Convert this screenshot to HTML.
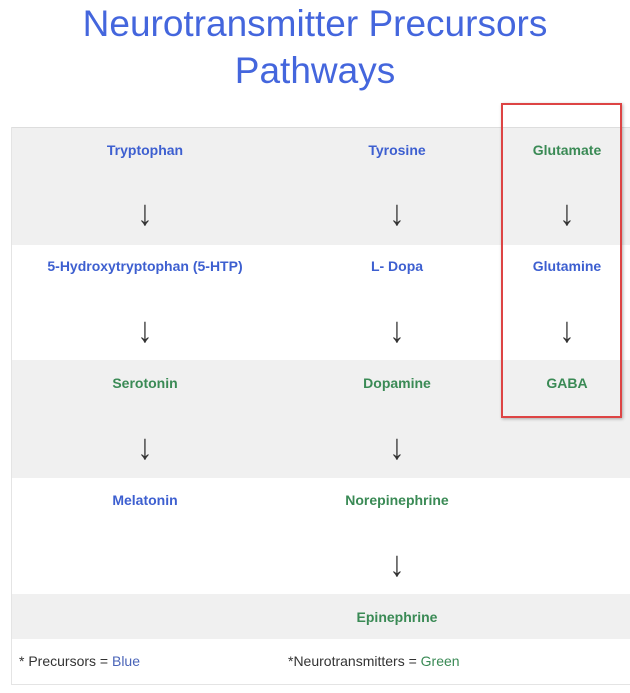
<!DOCTYPE html>
<html><head><style>
body{margin:0;width:630px;height:693px;background:#fff;position:relative;font-family:"Liberation Sans",sans-serif;overflow:hidden}
.t{position:absolute;left:0;width:630px;text-align:center;color:#4466dd;font-size:37px;line-height:48px}
.bg{position:absolute;left:11px;width:619px}
.l{position:absolute;width:240px;margin-left:-120px;text-align:center;font-weight:bold;font-size:14px;line-height:18px}
.b{color:#3d5fd0}.g{color:#3a8a55}
.a{position:absolute;width:40px;margin-left:-20px;text-align:center;font-size:36px;line-height:36px;color:#333;transform:scaleX(0.85)}
</style></head><body>
<div class="t" style="top:0px">Neurotransmitter Precursors</div>
<div class="t" style="top:47px">Pathways</div>
<div class="bg" style="top:127px;height:117px;background:#f0f0f0;border-top:1px solid #ddd"></div>
<div class="bg" style="top:360px;height:118px;background:#f0f0f0"></div>
<div class="bg" style="top:594px;height:45px;background:#f0f0f0"></div>
<div class="bg" style="top:684px;height:1px;background:#e4e4e4"></div>
<div style="position:absolute;left:11px;top:127px;width:1px;height:558px;background:#e4e4e4"></div>

<div class="l b" style="left:145px;top:141px">Tryptophan</div>
<div class="l b" style="left:397px;top:141px">Tyrosine</div>
<div class="l g" style="left:567px;top:141px">Glutamate</div>
<div class="a" style="left:145px;top:195px">↓</div>
<div class="a" style="left:397px;top:195px">↓</div>
<div class="a" style="left:567px;top:195px">↓</div>

<div class="l b" style="left:145px;top:257px">5-Hydroxytryptophan (5-HTP)</div>
<div class="l b" style="left:397px;top:257px">L- Dopa</div>
<div class="l b" style="left:567px;top:257px">Glutamine</div>
<div class="a" style="left:145px;top:312px">↓</div>
<div class="a" style="left:397px;top:312px">↓</div>
<div class="a" style="left:567px;top:312px">↓</div>

<div class="l g" style="left:145px;top:374px">Serotonin</div>
<div class="l g" style="left:397px;top:374px">Dopamine</div>
<div class="l g" style="left:567px;top:374px">GABA</div>
<div class="a" style="left:145px;top:429px">↓</div>
<div class="a" style="left:397px;top:429px">↓</div>

<div class="l b" style="left:145px;top:491px">Melatonin</div>
<div class="l g" style="left:397px;top:491px">Norepinephrine</div>
<div class="a" style="left:397px;top:546px">↓</div>
<div class="l g" style="left:397px;top:608px">Epinephrine</div>

<div style="position:absolute;left:19px;top:653px;font-size:14px;color:#333">* Precursors = <span style="color:#4a64b8">Blue</span></div>
<div style="position:absolute;left:288px;top:653px;font-size:14px;color:#333">*Neurotransmitters = <span style="color:#3a8a55">Green</span></div>

<div style="position:absolute;left:501px;top:103px;width:117px;height:311px;border:2px solid #dd4444;box-shadow:1px 1px 3px rgba(0,0,0,.3)"></div>
</body></html>
